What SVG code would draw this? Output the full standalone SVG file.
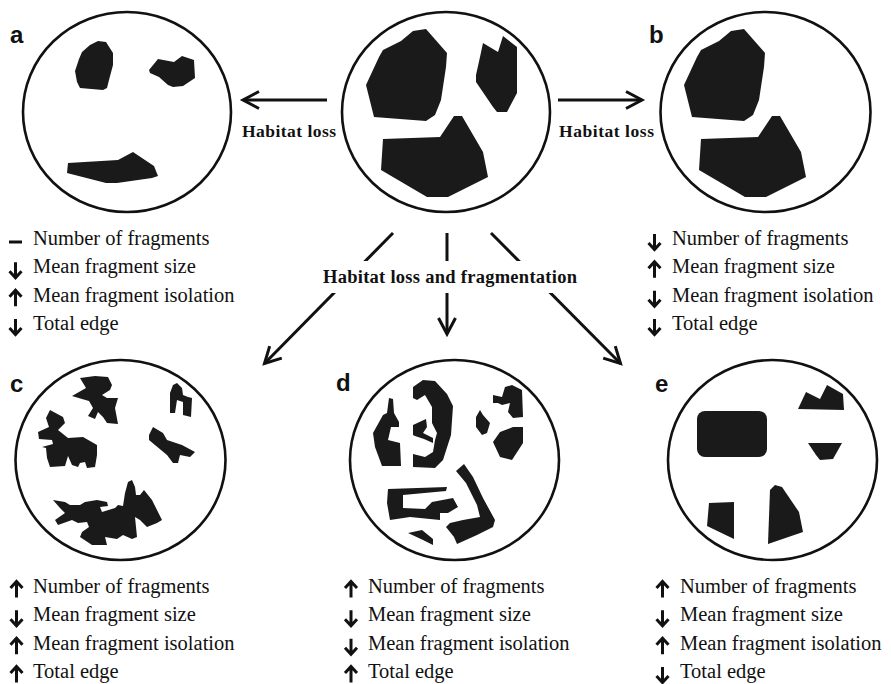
<svg xmlns="http://www.w3.org/2000/svg" xmlns:xlink="http://www.w3.org/1999/xlink" width="891" height="684" viewBox="0 0 891 684">
<style>
.circ{fill:#fff;stroke:#111;stroke-width:2.6}
.frag{fill:#1a1a1a}
.lbl{font-family:"Liberation Sans",Arial,sans-serif;font-weight:bold;font-size:24px;fill:#111}
.txt{font-family:"Liberation Serif","Times New Roman",serif;font-size:20.5px;fill:#111}
.bold{font-family:"Liberation Serif","Times New Roman",serif;font-weight:bold;fill:#111}
.conn{stroke:#111;stroke-width:3;fill:none}
.ind{stroke:#111;stroke-width:3;fill:none;stroke-linejoin:miter}
</style>
<defs>
<marker id="ah" markerUnits="userSpaceOnUse" markerWidth="24" markerHeight="24" viewBox="-20 -12 24 24" refX="0" refY="0" orient="auto" overflow="visible">
<path d="M-16,-8.5 L0,0 L-16,8.5" fill="none" stroke="#111" stroke-width="3"/>
</marker>
<path id="up" d="M0,4.5 V-11 M-6,-5 L0,-11.5 L6,-5"/>
<path id="dn" d="M0,-11 V4 M-6,-2 L0,4.5 L6,-2"/>
<g id="bigL"><polygon points="383,50 401,41 413,31 426,29 447,53 446,67 441,100 435,115 426,121 374,117 366,85 379,57"/></g>
<g id="bigB"><polygon points="383,139 440,137 454,116 462,116 483,152 488,177 448,197 427,197 381,170"/></g>
</defs>

<g id="connectors">
<line class="conn" x1="327" y1="100" x2="243" y2="100" marker-end="url(#ah)"/>
<line class="conn" x1="558" y1="100" x2="642" y2="100" marker-end="url(#ah)"/>
<line class="conn" x1="393" y1="233" x2="264.5" y2="363.5" marker-end="url(#ah)"/>
<line class="conn" x1="447" y1="233" x2="447" y2="334" marker-end="url(#ah)"/>
<line class="conn" x1="491" y1="233" x2="620.5" y2="363.5" marker-end="url(#ah)"/>
<rect x="318" y="261" width="264" height="32" fill="#fff"/>
<text class="bold" x="323" y="283" style="font-size:18.5px" textLength="254" lengthAdjust="spacing">Habitat loss and fragmentation</text>
<text class="bold" x="242" y="137" style="font-size:17.5px" textLength="94" lengthAdjust="spacing">Habitat loss</text>
<text class="bold" x="559" y="137" style="font-size:17.5px" textLength="95" lengthAdjust="spacing">Habitat loss</text>
</g>

<g id="node-center">
<ellipse class="circ" cx="446" cy="112" rx="104" ry="100"/>
<g class="frag">
<use xlink:href="#bigL"/>
<polygon points="483,43 498,52 503,36 517,47 517,93 507,112 497,112 493,107 476,82 476,75 480,57"/>
<use xlink:href="#bigB"/>
</g>
</g>

<g id="node-a">
<ellipse class="circ" cx="127" cy="112" rx="104" ry="100"/>
<g class="frag">
<polygon points="98,41 106,42 113,53 113,65 109,80 107,88 103,90 80,88 77,82 75,71 79,59 82,52 90,45"/>
<polygon points="149,70 158,59 174,62 182,56 194,60 195,78 183,86 173,87 168,85 159,77 150,73"/>
<polygon points="68,163 118,160 133,152 154,166 158,176 152,178 117,183 106,183 67,173"/>
</g>
<text class="lbl" x="10" y="43">a</text>
<line class="ind" x1="9" y1="242" x2="22" y2="242"/>
<use class="ind" xlink:href="#dn" x="15.5" y="273.3"/>
<use class="ind" xlink:href="#up" x="15.5" y="301.7"/>
<use class="ind" xlink:href="#dn" x="15.5" y="330"/>
<text class="txt" x="33" y="245">Number of fragments</text>
<text class="txt" x="33" y="273.3">Mean fragment size</text>
<text class="txt" x="33" y="301.7">Mean fragment isolation</text>
<text class="txt" x="33" y="330">Total edge</text>
</g>

<g id="node-b">
<ellipse class="circ" cx="765.5" cy="112" rx="105" ry="100"/>
<g class="frag" transform="translate(318,0)">
<use xlink:href="#bigL"/>
<use xlink:href="#bigB"/>
</g>
<text class="lbl" x="649" y="43">b</text>
<use class="ind" xlink:href="#dn" x="654.5" y="245"/>
<use class="ind" xlink:href="#up" x="654.5" y="273.3"/>
<use class="ind" xlink:href="#dn" x="654.5" y="301.7"/>
<use class="ind" xlink:href="#dn" x="654.5" y="330"/>
<text class="txt" x="672" y="245">Number of fragments</text>
<text class="txt" x="672" y="273.3">Mean fragment size</text>
<text class="txt" x="672" y="301.7">Mean fragment isolation</text>
<text class="txt" x="672" y="330">Total edge</text>
</g>

<g id="node-c">
<ellipse class="circ" cx="120.5" cy="460" rx="105" ry="100"/>
<g class="frag">
<polygon points="72,396 86,388 80,378 95,376 108,377 112,385 110,390 102,395 107,398 118,398 115,408 118,424 107,423 103,417 98,412 95,419 88,416 93,408 89,401 82,399"/>
<polygon points="50,410 63,417 65,423 58,430 68,438 83,437 97,445 97,455 95,467 87,468 85,462 80,463 78,467 72,465 68,456 65,466 50,467 47,458 46,448 42,447 53,444 52,440 39,439 38,432 49,427 46,418"/>
<polygon points="170,393 173,385 177,383 182,388 183,395 188,397 192,398 191,417 183,415 183,402 177,400 175,413 170,413"/>
<polygon points="153,427 163,433 167,440 182,445 195,452 190,457 180,455 178,463 173,463 167,455 149,440 149,435"/>
<polygon points="53,500 65,502 70,505 80,505 85,502 97,500 107,502 108,506 100,507 102,512 115,508 118,505 123,506 125,493 128,482 132,480 135,487 136,495 140,495 144,490 152,500 162,520 157,523 147,527 140,520 135,517 137,537 132,539 123,535 117,539 105,537 107,545 92,545 80,537 82,532 89,527 87,522 78,523 72,520 58,525 55,520 65,513 60,508"/>
</g>
<text class="lbl" x="10" y="392">c</text>
<use class="ind" xlink:href="#up" x="16.5" y="593"/>
<use class="ind" xlink:href="#dn" x="16.5" y="621.3"/>
<use class="ind" xlink:href="#up" x="16.5" y="649.7"/>
<use class="ind" xlink:href="#up" x="16.5" y="678"/>
<text class="txt" x="33" y="593">Number of fragments</text>
<text class="txt" x="33" y="621.3">Mean fragment size</text>
<text class="txt" x="33" y="649.7">Mean fragment isolation</text>
<text class="txt" x="33" y="678">Total edge</text>
</g>

<g id="node-d">
<ellipse class="circ" cx="454.5" cy="460" rx="104.5" ry="100"/>
<g class="frag">
<polygon points="389,398 393,399 394,413 399,422 399,427 391,427 388,440 400,443 401,466 382,466 375,447 373,433 383,415 387,413"/>
<polygon points="413,387 423,380 435,381 447,394 453,406 451,435 443,460 435,468 413,467 413,454 425,457 433,452 435,440 437,433 432,423 432,407 425,395 417,400 413,398"/>
<polygon points="413,425 426,419 427,427 423,433 433,438 433,443 424,439 415,436 413,435"/>
<polygon points="476,417 480,410 483,415 490,423 487,433 482,435 476,427"/>
<polygon points="493,395 502,397 505,387 512,385 522,390 523,417 513,418 508,412 510,403 502,405 498,403 493,403"/>
<polygon points="493,442 500,432 513,427 523,427 523,443 512,460 500,457"/>
<polygon points="388,489 447,487 446,491 403,495 403,508 425,509 432,502 453,498 458,507 448,513 440,513 440,520 410,517 390,520 387,503"/>
<polygon points="456,471 464,464 473,477 483,498 495,520 493,527 477,535 457,544 454,537 446,527 450,523 463,520 480,517 477,505 466,483"/>
<polygon points="408,533 422,530 433,539 433,545 423,540"/>
</g>
<text class="lbl" x="336" y="391">d</text>
<use class="ind" xlink:href="#up" x="351" y="593"/>
<use class="ind" xlink:href="#dn" x="351" y="621.3"/>
<use class="ind" xlink:href="#dn" x="351" y="649.7"/>
<use class="ind" xlink:href="#up" x="351" y="678"/>
<text class="txt" x="368" y="593">Number of fragments</text>
<text class="txt" x="368" y="621.3">Mean fragment size</text>
<text class="txt" x="368" y="649.7">Mean fragment isolation</text>
<text class="txt" x="368" y="678">Total edge</text>
</g>

<g id="node-e">
<ellipse class="circ" cx="772.5" cy="460" rx="104.5" ry="100"/>
<g class="frag">
<rect x="697" y="411" width="70" height="46" rx="8"/>
<polygon points="798,409 806,392 820,399 827,385 843,394 844,410"/>
<polygon points="808,443 842,443 833,459 820,460 816,455"/>
<polygon points="709,503 734,502 734,539 707,526"/>
<polygon points="770,490 775,485 782,487 799,512 803,532 768,544"/>
</g>
<text class="lbl" x="655" y="392">e</text>
<use class="ind" xlink:href="#up" x="662.5" y="593"/>
<use class="ind" xlink:href="#dn" x="662.5" y="621.3"/>
<use class="ind" xlink:href="#up" x="662.5" y="649.7"/>
<use class="ind" xlink:href="#dn" x="662.5" y="678"/>
<text class="txt" x="680" y="593">Number of fragments</text>
<text class="txt" x="680" y="621.3">Mean fragment size</text>
<text class="txt" x="680" y="649.7">Mean fragment isolation</text>
<text class="txt" x="680" y="678">Total edge</text>
</g>
</svg>
